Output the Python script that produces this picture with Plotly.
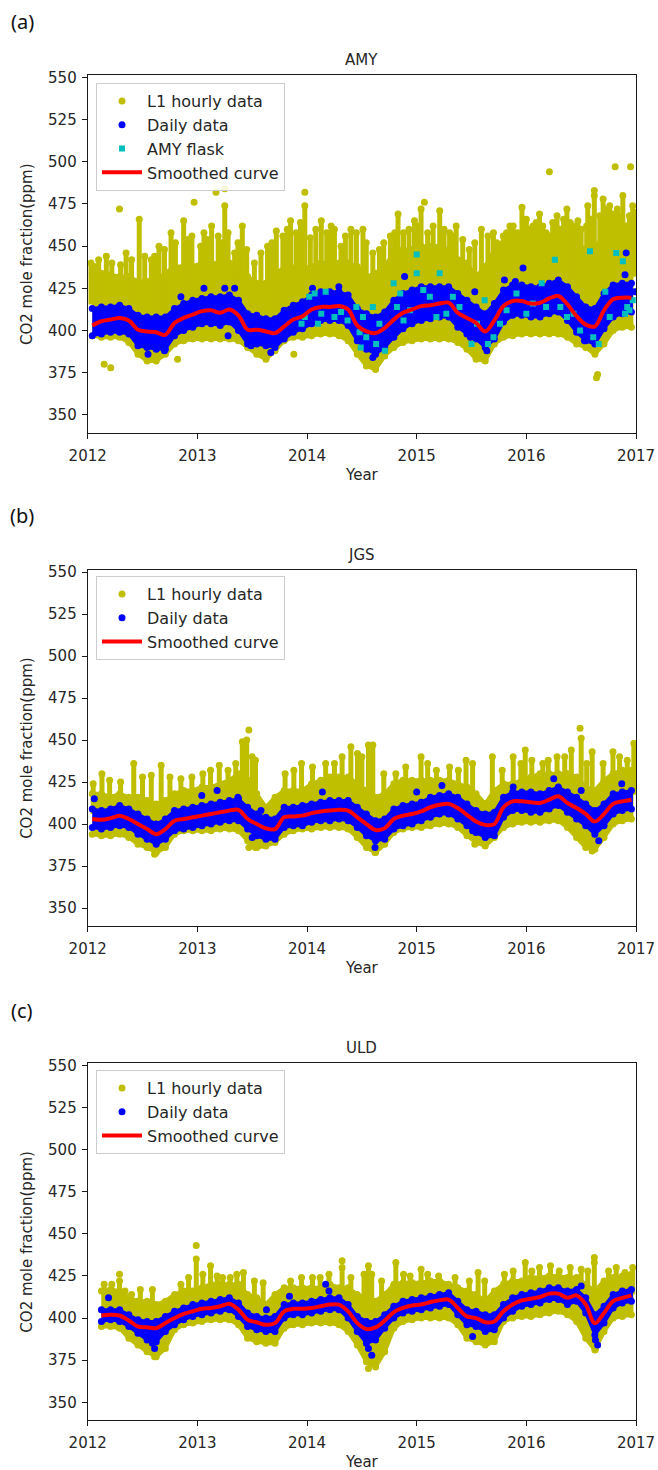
import plotly.graph_objects as go

# ---------------- data ----------------
MONTH_LABELS = [f"{y}-{m:02d}" for y in range(2012, 2017) for m in range(1, 13)]
YEAR_TICKS = [2012, 2013, 2014, 2015, 2016, 2017]
CO2_TICKS = [350, 375, 400, 425, 450, 475, 500, 525, 550]
N = None

# ---- AMY ----
A_SMOOTH = [403, 405.5, 406.5, 407.5, 406, 400.5, 399.5, 399, 397.5, 404.5, 407.5, 409.5,
            411.5, 412, 410.5, 412.5, 409, 400.5, 400.5, 399.5, 398.5, 402.5, 406.5, 408.5,
            412.5, 414, 414, 414.5, 412.5, 403, 399.5, 398.5, 401.5, 406.5, 410.5, 412.5,
            414.5, 415, 416, 416.5, 410.5, 407.5, 404.5, 399.5, 406, 414.5, 417.5, 417.5,
            416, 416.5, 419, 420.5, 415.5, 408.5, 403.5, 402.5, 412, 418.5, 419.5, 419.5]
A_HR_HI = [434, 434, 433, 432, 432, 429, 429, 430, 434, 438, 438, 438,
           440, 440, 440, 440, 436, 432, 428, 428, 434, 437, 437, 437,
           438, 440, 440, 440, 440, 438, 432, 434, 438, 446, 448, 448,
           450, 450, 450, 448, 442, 440, 432, 438, 448, 452, 454, 454,
           456, 456, 456, 454, 452, 452, 448, 448, 458, 462, 462, 462]
A_HR_LO = [397, 396, 396, 396, 393, 386, 382, 382, 386, 392, 394, 395,
           395, 395, 395, 395, 394, 390, 386, 383, 388, 394, 396, 396,
           397, 398, 398, 397, 394, 386, 379, 377, 385, 390, 393, 394,
           395, 395, 395, 395, 393, 389, 383, 382, 392, 396, 397, 398,
           398, 398, 398, 398, 396, 392, 390, 386, 392, 400, 402, 402]
A_DY_HI = [413, 414, 414, 415, 413, 409, 408, 408, 408, 413, 416, 418,
           419, 420, 420, 421, 418, 410, 409, 407, 407, 412, 415, 417,
           421, 423, 423, 423, 421, 413, 410, 408, 411, 418, 422, 424,
           426, 426, 426, 426, 422, 418, 414, 410, 416, 424, 427, 427,
           426, 426, 428, 430, 426, 420, 414, 413, 422, 427, 428, 428]
A_DY_LO = [397, 398, 399, 399, 398, 391, 390, 389, 389, 397, 400, 402,
           404, 404, 403, 405, 400, 392, 392, 391, 390, 395, 399, 401,
           404, 406, 406, 406, 403, 394, 389, 386, 390, 396, 401, 404,
           406, 407, 408, 408, 402, 398, 395, 390, 395, 405, 409, 409,
           408, 408, 410, 411, 406, 399, 394, 392, 401, 408, 410, 411]
A_COL_T = [2012.03, 2012.06, 2012.10, 2012.17, 2012.22, 2012.30, 2012.35, 2012.40, 2012.47, 2012.52,
           2012.58, 2012.61, 2012.65, 2012.70, 2012.76, 2012.80, 2012.875, 2012.91, 2012.95, 2013.03,
           2013.06, 2013.09, 2013.13, 2013.19, 2013.22, 2013.25, 2013.28, 2013.34, 2013.37, 2013.41,
           2013.45, 2013.52, 2013.58, 2013.64, 2013.68, 2013.72, 2013.78, 2013.82, 2013.85, 2013.90,
           2013.94, 2013.98, 2014.03, 2014.08, 2014.13, 2014.18, 2014.22, 2014.25, 2014.31, 2014.35,
           2014.40, 2014.45, 2014.51, 2014.54, 2014.60, 2014.66, 2014.70, 2014.76, 2014.80, 2014.83,
           2014.88, 2014.93, 2014.98, 2015.01, 2015.04, 2015.10, 2015.15, 2015.21, 2015.25, 2015.30,
           2015.33, 2015.36, 2015.42, 2015.48, 2015.53, 2015.59, 2015.65, 2015.70, 2015.73, 2015.79,
           2015.82, 2015.85, 2015.88, 2015.92, 2015.96, 2016.00, 2016.03, 2016.06, 2016.09, 2016.12,
           2016.15, 2016.18, 2016.24, 2016.28, 2016.31, 2016.34, 2016.37, 2016.40, 2016.43, 2016.47,
           2016.50, 2016.55, 2016.56, 2016.59, 2016.62, 2016.67, 2016.70, 2016.73, 2016.76, 2016.79,
           2016.83, 2016.85, 2016.88, 2016.91, 2016.94, 2016.97, 2016.99]
A_COL_V = [440, 438, 442, 444, 440, 439, 446, 442, 466, 444,
           442, 444, 450, 448, 458, 452, 465, 454, 456, 450,
           458, 454, 462, 456, 452, 474, 458, 446, 452, 462,
           448, 440, 446, 450, 452, 459, 456, 460, 465, 458,
           464, 474, 455, 460, 465, 458, 462, 460, 450, 456,
           460, 458, 460, 452, 446, 448, 452, 456, 458, 469,
           458, 460, 465, 462, 472, 458, 462, 471, 460, 458,
           456, 462, 454, 448, 452, 460, 456, 458, 452, 456,
           458, 462, 462, 458, 473, 466, 460, 462, 464, 469,
           462, 458, 464, 468, 460, 466, 472, 464, 462, 465,
           460, 462, 474, 466, 480, 468, 478, 472, 474, 469,
           472, 468, 480, 462, 468, 474, 470]
A_ISO_T = [2012.15, 2012.21, 2012.29, 2012.82, 2012.97, 2013.17, 2013.25, 2013.88, 2013.98, 2015.07,
           2016.21, 2016.62, 2016.64, 2016.65, 2016.81, 2016.95]
A_ISO_V = [380, 378, 472, 383, 476, 482, 484, 386, 482, 476,
           494, 483, 372, 374, 497, 497]
A_DOUT_T = [2012.85, 2013.06, 2013.25, 2013.34, 2012.55, 2012.70, 2013.28, 2013.49, 2013.67, 2014.05,
            2014.29, 2014.60, 2014.89, 2015.49, 2015.53, 2015.64, 2015.80, 2015.90, 2015.97, 2016.53,
            2016.90, 2016.91, 2016.99]
A_DOUT_V = [420, 425, 425, 425, 386, 388, 397, 391, 387, 425,
            426, 384, 432, 396, 423, 388, 430, 429, 437, 394,
            433, 446, 423]
A_FLASK_T = [2013.95, 2013.98, 2014.02, 2014.07, 2014.10, 2014.13, 2014.17, 2014.25, 2014.31, 2014.37,
             2014.45, 2014.48, 2014.49, 2014.51, 2014.54, 2014.60, 2014.63, 2014.66, 2014.71, 2014.79,
             2014.82, 2014.85, 2014.88, 2014.94, 2015.00, 2015.00, 2015.06, 2015.12, 2015.18, 2015.21,
             2015.27, 2015.33, 2015.39, 2015.50, 2015.55, 2015.62, 2015.65, 2015.70, 2015.76, 2015.82,
             2015.91, 2016.00, 2016.06, 2016.14, 2016.18, 2016.26, 2016.31, 2016.37, 2016.43, 2016.49,
             2016.58, 2016.61, 2016.66, 2016.72, 2016.76, 2016.82, 2016.88, 2016.90, 2016.92, 2016.94,
             2016.97]
A_FLASK_V = [404, 408, 420, 422, 404, 410, 423, 408, 411, 406,
             414, 399, 390, 408, 396, 414, 392, 404, 388, 428,
             414, 422, 406, 412, 434, 445, 424, 420, 408, 434,
             410, 420, 414, 392, 404, 418, 392, 396, 404, 412,
             422, 410, 416, 428, 414, 442, 414, 408, 410, 400,
             447, 396, 392, 423, 408, 446, 441, 410, 414, 412,
             418]

# ---- JGS ----
B_SMOOTH = [403, 402.5, 403.5, 405, 403, 400, 397, 394, 397, 402, 403, 404,
            405, 406, 407, 408, 408.5, 403, 400, 397.5, 397, 404, 404.5, 405,
            406.5, 407.5, 408, 408.5, 408, 404, 400, 396.5, 397.5, 403, 405, 406,
            407.5, 410, 411.5, 412, 409.5, 405.5, 401.5, 399.5, 400, 410, 413.5, 413.5,
            413, 412.5, 414.5, 416.5, 412.5, 409.5, 406, 401.5, 406, 412, 413.5, 414.5]
B_HR_HI = [418, 418, 416, 418, 416, 416, 414, 412, 414, 418, 420, 420,
           422, 422, 424, 426, 430, 426, 418, 410, 416, 420, 420, 420,
           424, 426, 428, 428, 428, 424, 420, 416, 418, 424, 426, 426,
           426, 426, 426, 426, 424, 422, 418, 412, 420, 424, 424, 426,
           428, 430, 430, 430, 430, 428, 422, 420, 426, 430, 432, 432]
B_HR_LO = [394, 393, 393, 394, 392, 388, 386, 383, 386, 394, 396, 396,
           396, 396, 397, 397, 396, 390, 386, 387, 389, 394, 396, 397,
           397, 398, 398, 398, 397, 392, 386, 383, 388, 395, 397, 398,
           398, 399, 400, 400, 398, 393, 389, 387, 392, 398, 400, 401,
           401, 401, 402, 402, 398, 392, 386, 385, 392, 400, 402, 403]
B_DY_HI = [409, 408, 409, 411, 409, 406, 403, 400, 403, 408, 409, 410,
           411, 412, 413, 414, 415, 410, 406, 404, 403, 410, 410, 411,
           412, 413, 414, 414, 414, 410, 406, 402, 403, 409, 411, 412,
           413, 416, 417, 418, 416, 412, 408, 406, 407, 416, 419, 419,
           419, 418, 420, 422, 419, 416, 412, 408, 412, 418, 419, 420]
B_DY_LO = [398, 397, 398, 399, 398, 394, 391, 388, 391, 396, 397, 398,
           399, 400, 401, 402, 402, 397, 393, 391, 391, 398, 399, 399,
           401, 402, 402, 403, 402, 398, 393, 390, 391, 397, 399, 400,
           402, 404, 406, 406, 403, 399, 395, 392, 393, 404, 408, 408,
           407, 407, 409, 411, 407, 403, 399, 394, 399, 406, 408, 409]
B_COL_T = [2012.05, 2012.13, 2012.20, 2012.30, 2012.42, 2012.50, 2012.58, 2012.67, 2012.75, 2012.85,
           2012.95, 2013.05, 2013.12, 2013.20, 2013.28, 2013.35, 2013.41, 2013.42, 2013.45, 2013.50,
           2013.53, 2013.80, 2013.88, 2013.95, 2014.05, 2014.17, 2014.25, 2014.32, 2014.40, 2014.46,
           2014.50, 2014.56, 2014.60, 2014.70, 2014.81, 2014.90, 2015.04, 2015.10, 2015.18, 2015.30,
           2015.38, 2015.45, 2015.51, 2015.69, 2015.78, 2015.88, 2015.95, 2015.99, 2016.05, 2016.15,
           2016.20, 2016.28, 2016.35, 2016.41, 2016.50, 2016.55, 2016.60, 2016.70, 2016.79, 2016.85,
           2016.92, 2016.98]
B_COL_V = [424, 430, 426, 425, 436, 428, 429, 435, 428, 427,
           428, 430, 432, 435, 432, 436, 449, 444, 450, 440,
           438, 430, 432, 436, 434, 436, 436, 440, 446, 442,
           440, 447, 447, 430, 430, 434, 440, 436, 432, 434,
           432, 438, 436, 440, 432, 440, 436, 444, 438, 436,
           438, 440, 440, 444, 451, 436, 443, 436, 443, 440,
           438, 448]
B_ISO_T = [2013.47, 2016.49, 2013.47, 2013.53, 2012.61, 2014.62, 2016.60, 2015.53]
B_ISO_V = [456, 457, 386, 386, 382, 383, 384, 388]
B_DOUT_T = [2012.06, 2013.04, 2013.18, 2013.37, 2014.14, 2015.00, 2015.23, 2015.88, 2016.25, 2016.50,
            2016.87, 2013.50, 2013.58, 2014.62, 2015.51, 2016.66]
B_DOUT_V = [415, 417, 420, 416, 419, 419, 423, 422, 427, 420,
            424, 392, 408, 386, 396, 390]

# ---- ULD ----
C_SMOOTH = [N, 401.5, 402, 401.5, 398.5, 395, 394.5, 394, 397, 400, 402.5, 404,
            405.5, 406, 407, 408.5, 405, 399, 397.5, 396, 397, 404, 405.5, 405.5,
            406, 407, 408, 408, 404, 397, 393.5, 394.5, 398.5, 403.5, 406, 407.5,
            408, 409.5, 410.5, 411, 406, 401, 400, 397.5, 398, 404, 408, 410.5,
            411.5, 412.5, 414.5, 414.5, 412, 413.5, 408, 397, 403, 410, 412, 413.5]
C_HR_HI = [N, 416, 417, 416, 412, 410, 410, 408, 410, 414, 416, 416,
           418, 420, 420, 420, 420, 414, 412, 408, 414, 418, 418, 418,
           418, 418, 420, 418, 418, 414, 412, 410, 414, 420, 421, 421,
           421, 422, 422, 420, 418, 416, 414, 410, 416, 420, 422, 422,
           424, 424, 425, 425, 424, 424, 420, 416, 422, 424, 425, 426]
C_HR_LO = [N, 395, 395, 394, 388, 384, 380, 377, 382, 393, 396, 397,
           398, 399, 399, 399, 396, 388, 386, 385, 385, 394, 396, 396,
           397, 397, 397, 396, 392, 384, 374, 371, 380, 394, 398, 399,
           400, 400, 400, 400, 396, 388, 386, 384, 386, 398, 400, 401,
           401, 402, 403, 404, 402, 398, 388, 381, 392, 400, 401, 402]
C_DY_HI = [N, 405, 405, 405, 402, 399, 398, 398, 401, 404, 406, 408,
           409, 410, 411, 412, 409, 403, 401, 400, 401, 408, 409, 409,
           410, 411, 412, 412, 408, 401, 398, 398, 402, 407, 410, 411,
           412, 413, 414, 415, 410, 405, 404, 402, 402, 408, 412, 414,
           415, 416, 418, 418, 416, 417, 412, 402, 407, 414, 416, 417]
C_DY_LO = [N, 398, 399, 398, 395, 391, 387, 386, 392, 396, 399, 401,
           402, 403, 404, 405, 401, 395, 393, 392, 392, 400, 402, 402,
           403, 404, 405, 405, 400, 392, 385, 387, 394, 400, 403, 404,
           405, 406, 407, 408, 402, 396, 395, 392, 393, 400, 404, 407,
           408, 409, 411, 411, 408, 410, 403, 390, 397, 406, 409, 410]
C_COL_T = [2012.15, 2012.22, 2012.29, 2012.34, 2012.40, 2012.48, 2012.59, 2012.85, 2012.92, 2012.99,
           2013.05, 2013.12, 2013.18, 2013.23, 2013.30, 2013.36, 2013.42, 2013.52, 2013.60, 2013.85,
           2013.95, 2014.05, 2014.12, 2014.20, 2014.32, 2014.40, 2014.52, 2014.56, 2014.59, 2014.68,
           2014.81, 2014.88, 2014.94, 2015.04, 2015.10, 2015.20, 2015.35, 2015.48, 2015.56, 2015.62,
           2015.80, 2015.88, 2015.99, 2016.05, 2016.12, 2016.22, 2016.30, 2016.40, 2016.50, 2016.56,
           2016.62, 2016.75, 2016.82, 2016.90, 2016.97]
C_COL_V = [420, 420, 422, 416, 414, 417, 417, 420, 424, 435,
           426, 431, 425, 424, 424, 426, 427, 422, 421, 422,
           424, 424, 424, 426, 430, 424, 426, 431, 426, 422,
           433, 426, 425, 429, 426, 425, 424, 422, 427, 422,
           426, 428, 433, 428, 430, 431, 428, 430, 429, 428,
           433, 428, 430, 427, 430]
C_ISO_T = [2012.29, 2012.99, 2014.32, 2016.62, 2014.56, 2012.61, 2016.63, 2013.68]
C_ISO_V = [426, 443, 434, 436, 370, 377, 381.5, 387]
C_DOUT_T = [2012.19, 2013.63, 2014.17, 2014.20, 2013.84, 2014.59, 2014.56, 2012.61, 2012.59, 2016.50,
            2016.63, 2016.65, 2015.51]
C_DOUT_V = [412, 405, 420, 416, 413, 378, 382, 382, 385, 419,
            387, 384, 389]

# ---------------- style ----------------
OLIVE = "#bfbf00"
BLUE = "#0000ff"
CYAN = "#00bfbf"
RED = "#ff0000"
TXT = "#262626"
FONT = "DejaVu Sans"
W, H = 658, 1470
X0, X1 = 87.7, 636.0
PANEL_PX = [(75.3, 432.7), (570.0, 925.7), (1063.3, 1420.0)]
LEGEND_TOP = [83, 576, 1070]
LETTER_Y = [22, 515, 1010]


def month_center(label):
    y, m = label.split("-")
    return int(y) + (int(m) - 0.5) / 12.0


T = [month_center(s) for s in MONTH_LABELS]


def pyp(p):
    return 1 - p / H


fig = go.Figure()


def add_panel(k, smooth, hr_hi, hr_lo, dy_hi, dy_lo, col_t, col_v, iso_t, iso_v,
              dout_t, dout_v, flask_t=None, flask_v=None, flask_name=None):
    xa = "x" if k == 0 else f"x{k+1}"
    ya = "y" if k == 0 else f"y{k+1}"
    lg = "legend" if k == 0 else f"legend{k+1}"
    common = dict(xaxis=xa, yaxis=ya, legend=lg, hoverinfo="skip")

    idx = [i for i in range(len(T)) if hr_hi[i] is not None]
    # hourly band polygon
    fig.add_trace(go.Scatter(
        x=[T[i] for i in idx] + [T[i] for i in reversed(idx)],
        y=[hr_hi[i] for i in idx] + [hr_lo[i] for i in reversed(idx)],
        mode="lines", fill="toself", fillcolor=OLIVE,
        line=dict(color=OLIVE, width=4), showlegend=False, **common))
    # hourly columns
    cx, cy = [], []
    for t, v in zip(col_t, col_v):
        j = min(max(int((t - 2012) * 12), idx[0]), len(T) - 1)
        base = (hr_hi[j] + hr_lo[j]) / 2
        cx += [t, t, None]
        cy += [base, v, None]
    fig.add_trace(go.Scatter(x=cx, y=cy, mode="lines",
                             line=dict(color=OLIVE, width=5), showlegend=False, **common))
    # hourly edge/points (legend entry)
    fig.add_trace(go.Scatter(
        x=[T[i] for i in idx] * 2 + list(col_t) + list(iso_t),
        y=[hr_hi[i] for i in idx] + [hr_lo[i] for i in idx] + list(col_v) + list(iso_v),
        mode="markers", marker=dict(color=OLIVE, size=7, line=dict(width=0)),
        name="L1 hourly data", showlegend=True, **common))

    # daily band
    idd = [i for i in range(len(T)) if dy_hi[i] is not None]
    fig.add_trace(go.Scatter(
        x=[T[i] for i in idd] + [T[i] for i in reversed(idd)],
        y=[dy_hi[i] for i in idd] + [dy_lo[i] for i in reversed(idd)],
        mode="lines", fill="toself", fillcolor=BLUE,
        line=dict(color=BLUE, width=3), showlegend=False, **common))
    fig.add_trace(go.Scatter(
        x=[T[i] for i in idd] * 2 + list(dout_t),
        y=[dy_hi[i] for i in idd] + [dy_lo[i] for i in idd] + list(dout_v),
        mode="markers", marker=dict(color=BLUE, size=7, line=dict(width=0)),
        name="Daily data", showlegend=True, **common))

    if flask_t is not None:
        fig.add_trace(go.Scatter(
            x=flask_t, y=flask_v, mode="markers",
            marker=dict(color=CYAN, size=6, symbol="square", line=dict(width=0)),
            name=flask_name, showlegend=True, **common))

    fig.add_trace(go.Scatter(
        x=T, y=smooth, mode="lines", line=dict(color=RED, width=4, shape="spline"),
        connectgaps=False, name="Smoothed curve", showlegend=True, **common))


add_panel(0, A_SMOOTH, A_HR_HI, A_HR_LO, A_DY_HI, A_DY_LO, A_COL_T, A_COL_V, A_ISO_T, A_ISO_V,
          A_DOUT_T, A_DOUT_V, A_FLASK_T, A_FLASK_V, "AMY flask")
add_panel(1, B_SMOOTH, B_HR_HI, B_HR_LO, B_DY_HI, B_DY_LO, B_COL_T, B_COL_V, B_ISO_T, B_ISO_V,
          B_DOUT_T, B_DOUT_V)
add_panel(2, C_SMOOTH, C_HR_HI, C_HR_LO, C_DY_HI, C_DY_LO, C_COL_T, C_COL_V, C_ISO_T, C_ISO_V,
          C_DOUT_T, C_DOUT_V)

TITLES = ["AMY", "JGS", "ULD"]
LETTERS = ["(a)", "(b)", "(c)"]

layout = dict(
    width=W, height=H, margin=dict(l=0, r=0, t=0, b=0, pad=0, autoexpand=False),
    paper_bgcolor="white", plot_bgcolor="white",
    font=dict(family=FONT, size=15, color=TXT),
    showlegend=True, annotations=[],
)
axis_common = dict(showline=True, mirror=True, linecolor="#1a1a1a", linewidth=1,
                   ticks="outside", ticklen=5, tickwidth=1, tickcolor="#1a1a1a",
                   showgrid=False, zeroline=False, automargin=False,
                   tickfont=dict(family=FONT, size=15, color=TXT))


def ann(text, x, y, size=15, family=FONT, angle=0, color=TXT):
    return dict(text=text, x=x / W, y=pyp(y), xref="paper", yref="paper",
                xanchor="center", yanchor="middle", textangle=angle, showarrow=False,
                font=dict(family=family, size=size, color=color))


for k, (top, bot) in enumerate(PANEL_PX):
    sx = "" if k == 0 else str(k + 1)
    layout["xaxis" + sx] = dict(domain=[X0 / W, X1 / W], anchor="y" + sx,
                                range=[2012, 2017], tickvals=YEAR_TICKS,
                                ticklabelstandoff=4, **axis_common)
    layout["yaxis" + sx] = dict(domain=[pyp(bot), pyp(top)], anchor="x" + sx,
                                range=[339.5, 551.2], tickvals=CO2_TICKS,
                                ticklabelstandoff=2, **axis_common)
    layout["legend" + sx] = dict(
        x=96 / W, y=pyp(LEGEND_TOP[k]), xanchor="left", yanchor="top",
        bgcolor="rgba(255,255,255,0.85)", bordercolor="#cccccc", borderwidth=1,
        font=dict(family=FONT, size=16, color=TXT), itemwidth=40, tracegroupgap=0)
    cx = (X0 + X1) / 2
    layout["annotations"] += [
        ann(TITLES[k], cx, top - 15),
        ann("Year", cx, bot + 42),
        ann("CO2 mole fraction(ppm)", 27, (top + bot) / 2, angle=-90),
        ann(LETTERS[k], 22, LETTER_Y[k], size=20, family="Noto Sans", color="#111111"),
    ]

fig.update_layout(**layout)
fig.write_html("out.html")
